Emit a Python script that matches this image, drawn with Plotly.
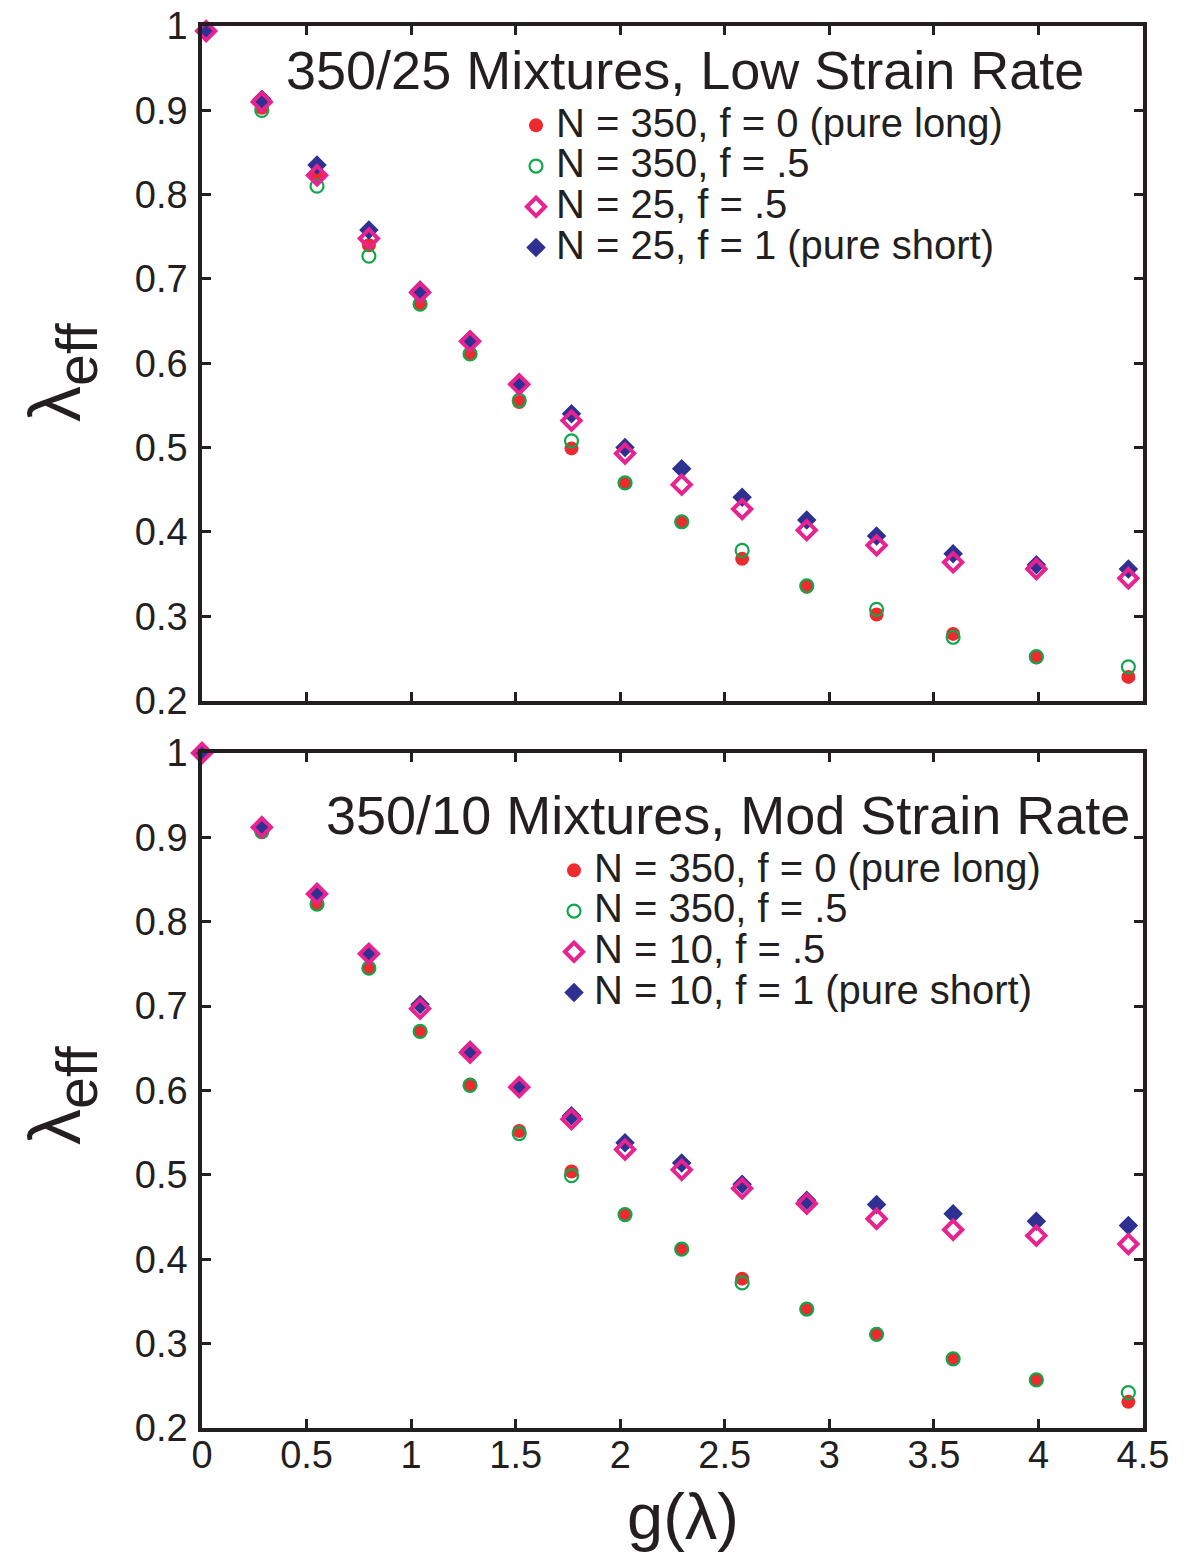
import plotly.graph_objects as go

# ---------------- data ----------------
g_top = [0.02, 0.286, 0.550, 0.798, 1.043, 1.282, 1.517, 1.767, 2.023, 2.294, 2.583, 2.892, 3.226, 3.592, 3.990, 4.430]
g_bot = [0.0, 0.286, 0.550, 0.798, 1.043, 1.282, 1.517, 1.767, 2.023, 2.294, 2.583, 2.892, 3.226, 3.592, 3.990, 4.430]

red_top = [0.994, 0.903, 0.822, 0.740, 0.671, 0.611, 0.554, 0.499, 0.458, 0.412, 0.368, 0.335, 0.302, 0.279, 0.251, 0.228]
green_top = [0.994, 0.900, 0.810, 0.727, 0.670, 0.611, 0.556, 0.508, 0.458, 0.412, 0.378, 0.336, 0.308, 0.275, 0.252, 0.240]
magenta_top = [0.994, 0.910, 0.823, 0.748, 0.684, 0.626, 0.575, 0.532, 0.493, 0.456, 0.427, 0.402, 0.384, 0.364, 0.356, 0.345]
blue_top = [0.994, 0.913, 0.835, 0.758, 0.687, 0.628, 0.577, 0.540, 0.500, 0.475, 0.441, 0.414, 0.395, 0.374, 0.361, 0.356]

red_bot = [1.0, 0.906, 0.821, 0.745, 0.670, 0.607, 0.552, 0.504, 0.453, 0.412, 0.377, 0.341, 0.311, 0.282, 0.257, 0.231]
green_bot = [1.0, 0.907, 0.821, 0.745, 0.670, 0.606, 0.549, 0.499, 0.453, 0.412, 0.372, 0.341, 0.311, 0.282, 0.257, 0.242]
magenta_bot = [1.0, 0.912, 0.833, 0.762, 0.697, 0.645, 0.604, 0.566, 0.530, 0.506, 0.484, 0.466, 0.448, 0.435, 0.428, 0.418]
blue_bot = [1.0, 0.913, 0.835, 0.763, 0.702, 0.648, 0.604, 0.570, 0.538, 0.514, 0.489, 0.470, 0.465, 0.454, 0.445, 0.440]

names_top = ["N = 350, f = 0 (pure long)", "N = 350, f = .5", "N = 25, f = .5", "N = 25, f = 1 (pure short)"]
names_bot = ["N = 350, f = 0 (pure long)", "N = 350, f = .5", "N = 10, f = .5", "N = 10, f = 1 (pure short)"]

title_top = "350/25 Mixtures, Low Strain Rate"
title_bot = "350/10 Mixtures, Mod Strain Rate"

x_ticks = [0, 0.5, 1, 1.5, 2, 2.5, 3, 3.5, 4, 4.5]
x_ticktext = ["0", "0.5", "1", "1.5", "2", "2.5", "3", "3.5", "4", "4.5"]
y_ticks = [0.2, 0.3, 0.4, 0.5, 0.6, 0.7, 0.8, 0.9, 1.0]
y_ticktext = ["0.2", "0.3", "0.4", "0.5", "0.6", "0.7", "0.8", "0.9", "1"]

# ---------------- styles ----------------
RED = "#EE2A2E"
GREEN = "#12A64C"
MAGENTA = "#E8228F"
BLUE = "#2E3192"
INK = "#231F20"
FONT = "Liberation Sans, Arial, Helvetica, sans-serif"

styles = {
    "red": dict(symbol="circle", size=14, color=RED, line=dict(width=0)),
    "green": dict(symbol="circle-open", size=13, color=GREEN, line=dict(width=2.2, color=GREEN)),
    "magenta": dict(symbol="diamond-open", size=14, color=MAGENTA, line=dict(width=4, color=MAGENTA)),
    "blue": dict(symbol="diamond", size=15, color=BLUE, line=dict(width=0)),
}

fig = go.Figure()


def legend_label(s):
    return "<span style='font-size:40px'>" + s + "</span>"


def add_panel(xs, series, names, xa, ya, legend):
    # draw order: red, green, blue, magenta ; legend order: red, green, magenta, blue
    order = [("red", 0, 1), ("green", 1, 2), ("blue", 3, 4), ("magenta", 2, 3)]
    for key, idx, rank in order:
        fig.add_trace(go.Scatter(
            x=xs, y=series[key], mode="markers", name=legend_label(names[idx]),
            marker=styles[key], xaxis=xa, yaxis=ya, legend=legend,
            legendrank=rank, cliponaxis=False, showlegend=True,
        ))


add_panel(g_top, {"red": red_top, "green": green_top, "magenta": magenta_top, "blue": blue_top},
          names_top, "x", "y", "legend")
add_panel(g_bot, {"red": red_bot, "green": green_bot, "magenta": magenta_bot, "blue": blue_bot},
          names_bot, "x2", "y2", "legend2")

W, H = 1185, 1552
ML, MR, MT, MB = 202, 42, 26, 124
plot_h = H - MT - MB


def py(p):
    return (H - MB - p) / plot_h


def px(p):
    return (p - ML) / (W - ML - MR)


axis_common = dict(
    showline=True, linewidth=3.5, linecolor=INK, mirror="ticks",
    ticks="inside", ticklen=9, tickwidth=3, tickcolor=INK,
    showgrid=False, zeroline=False, automargin=False,
    tickfont=dict(family=FONT, size=38, color=INK),
)

fig.update_layout(
    template="none",
    width=W, height=H,
    margin=dict(l=ML, r=MR, t=MT, b=MB, autoexpand=False),
    paper_bgcolor="white", plot_bgcolor="white",
    font=dict(family=FONT, color=INK),
    xaxis=dict(domain=[0, 1], range=[0, 4.5], anchor="y", tickvals=x_ticks,
               ticktext=x_ticktext, showticklabels=False, **axis_common),
    yaxis=dict(domain=[py(700.5), 1], range=[0.2, 1.0], anchor="x", tickvals=y_ticks,
               ticktext=y_ticktext, ticklabelstandoff=3, **axis_common),
    xaxis2=dict(domain=[0, 1], range=[0, 4.5], anchor="y2", tickvals=x_ticks,
                ticktext=x_ticktext, ticklabelstandoff=-9, **axis_common),
    yaxis2=dict(domain=[0, py(753)], range=[0.2, 1.0], anchor="x2", tickvals=y_ticks,
                ticktext=y_ticktext, ticklabelstandoff=3, **axis_common),
    legend=dict(x=px(516), y=py(100), xanchor="left", yanchor="top",
                bgcolor="rgba(0,0,0,0)", borderwidth=0,
                font=dict(family=FONT, size=29, color=INK), tracegroupgap=0),
    legend2=dict(x=px(554), y=py(845), xanchor="left", yanchor="top",
                 bgcolor="rgba(0,0,0,0)", borderwidth=0,
                 font=dict(family=FONT, size=29, color=INK), tracegroupgap=0),
)

annotations = [
    dict(text=title_top, x=px(685), y=py(70), xref="paper", yref="paper",
         showarrow=False, xanchor="center", yanchor="middle",
         font=dict(family=FONT, size=54, color=INK)),
    dict(text=title_bot, x=px(728), y=py(815), xref="paper", yref="paper",
         showarrow=False, xanchor="center", yanchor="middle",
         font=dict(family=FONT, size=54, color=INK)),
    dict(text="<span style='font-size:72px'>λ</span><sub>eff</sub>", x=px(62), y=py(372),
         xref="paper", yref="paper", showarrow=False, textangle=-90,
         xanchor="center", yanchor="middle", font=dict(family=FONT, size=82, color=INK)),
    dict(text="<span style='font-size:72px'>λ</span><sub>eff</sub>", x=px(62), y=py(1095),
         xref="paper", yref="paper", showarrow=False, textangle=-90,
         xanchor="center", yanchor="middle", font=dict(family=FONT, size=82, color=INK)),
    dict(text="g(λ)", x=px(683), y=py(1516), xref="paper", yref="paper",
         showarrow=False, xanchor="center", yanchor="middle",
         font=dict(family=FONT, size=65, color=INK)),
]
fig.update_layout(annotations=annotations)

fig.write_html("out.html")
